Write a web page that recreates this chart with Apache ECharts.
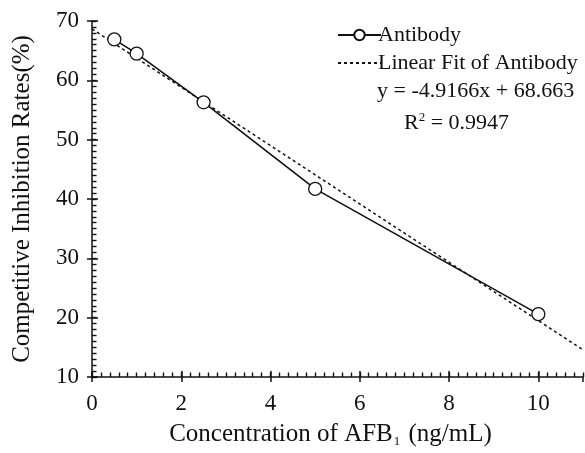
<!DOCTYPE html>
<html>
<head>
<meta charset="utf-8">
<script src="https://cdn.jsdelivr.net/npm/echarts@6/dist/echarts.min.js"></script>
<style>
  html, body { margin: 0; padding: 0; background: #fff; }
  #chart { width: 585px; height: 453px; }
</style>
</head>
<body>
<div id="chart"></div>
<script>
// concentration of AFB1 (ng/mL) and inhibition rates (%)
var concentration = [0.5, 1, 2.5, 5, 10];
var inhibition = [66.9, 64.5, 56.3, 41.7, 20.6];
// linear fit y = -4.9166x + 68.663, read at the axis ends
var fitX = [0, 11];
var fitY = [68.66, 14.58];
var xTicks = [0, 2, 4, 6, 8, 10];
var yTicks = [10, 20, 30, 40, 50, 60, 70];

var serif = '"Liberation Serif", "Times New Roman", serif';
var ink = '#111';

var chart = echarts.init(document.getElementById('chart'));

var baseX = { type: 'value', min: 0, max: 11, interval: 2 };
var baseY = { type: 'value', min: 10, max: 70, interval: 10 };
var bare = {
  axisLine: { show: false, onZero: false },
  axisLabel: { show: false },
  splitLine: { show: false }
};

chart.setOption({
  animation: false,
  grid: { left: 92, right: 2, top: 21, bottom: 73 },
  legend: {
    orient: 'vertical',
    left: 332,
    top: 19,
    itemWidth: 43,
    itemHeight: 13,
    itemGap: 6,
    textStyle: { fontFamily: serif, fontSize: 22, color: ink, lineHeight: 22, padding: [0, 0, 0, -8] },
    data: [
      { name: 'Antibody' },
      { name: 'Linear Fit of Antibody', itemStyle: { opacity: 0 } }
    ]
  },
  xAxis: [
    Object.assign({}, baseX, {
      name: '{t|Concentration of AFB}{s|1}{t| (ng/mL)}',
      nameLocation: 'middle',
      nameGap: 44,
      nameTextStyle: {
        padding: [0, 14, 0, 0],
        rich: {
          t: { fontFamily: serif, fontSize: 25, color: ink, lineHeight: 27 },
          s: { fontFamily: serif, fontSize: 13, color: ink, verticalAlign: 'bottom', lineHeight: 13, padding: [4, 2, 0, 1] }
        }
      },
      axisLine: { onZero: false, lineStyle: { color: ink, width: 1.5 } },
      axisTick: { inside: true, length: 6, lineStyle: { color: ink, width: 1.5 } },
      axisLabel: {
        showMaxLabel: false,
        margin: 15,
        fontFamily: serif,
        fontSize: 23,
        color: ink,
        formatter: function (v) { return xTicks.indexOf(v) >= 0 ? String(v) : ''; }
      },
      splitLine: { show: false },
      z: 5
    }),
    // outward half of the crossing major ticks
    Object.assign({}, baseX, bare, {
      position: 'bottom',
      axisTick: { show: true, inside: false, length: 5, lineStyle: { color: ink, width: 1.5 } },
      z: 5
    }),
    // minor ticks every 0.2
    Object.assign({}, baseX, bare, {
      position: 'bottom',
      interval: 0.2,
      axisTick: { show: true, inside: true, length: 4.5, lineStyle: { color: ink, width: 1.4 } },
      z: 5
    })
  ],
  yAxis: [
    Object.assign({}, baseY, {
      name: 'Competitive Inhibition Rates(%)',
      nameLocation: 'middle',
      nameGap: 57,
      nameTextStyle: { fontFamily: serif, fontSize: 25, color: ink },
      axisLine: { onZero: false, lineStyle: { color: ink, width: 1.5 } },
      axisTick: { inside: true, length: 6, lineStyle: { color: ink, width: 1.5 } },
      axisLabel: {
        margin: 13,
        fontFamily: serif,
        fontSize: 23,
        color: ink,
        formatter: function (v) { return yTicks.indexOf(v) >= 0 ? String(v) : ''; }
      },
      splitLine: { show: false },
      z: 5
    }),
    // outward half of the crossing major ticks
    Object.assign({}, baseY, bare, {
      position: 'left',
      axisTick: { show: true, inside: false, length: 5, lineStyle: { color: ink, width: 1.5 } },
      z: 5
    }),
    // minor ticks every 1
    Object.assign({}, baseY, bare, {
      position: 'left',
      interval: 1,
      axisTick: { show: true, inside: true, length: 4.5, lineStyle: { color: ink, width: 1.4 } },
      z: 5
    })
  ],
  graphic: [
    {
      type: 'text',
      left: 377,
      top: 80,
      style: { text: 'y = -4.9166x + 68.663', font: '22px ' + serif, fill: ink }
    },
    {
      type: 'text',
      left: 404,
      top: 111,
      style: {
        text: '{t|R}{p|2}{t| = 0.9947}',
        rich: {
          t: { fontFamily: serif, fontSize: 22, fill: ink, lineHeight: 24 },
          p: { fontFamily: serif, fontSize: 13, fill: ink, verticalAlign: 'top', lineHeight: 13 }
        }
      }
    }
  ],
  series: [
    {
      name: 'Linear Fit of Antibody',
      type: 'line',
      data: fitX.map(function (x, i) { return [x, fitY[i]]; }),
      symbol: 'none',
      lineStyle: { color: ink, width: 1.5, type: [3, 3] },
      itemStyle: { color: ink },
      z: 2
    },
    {
      name: 'Antibody',
      type: 'line',
      data: concentration.map(function (x, i) { return [x, inhibition[i]]; }),
      symbol: 'circle',
      symbolSize: 13,
      lineStyle: { color: ink, width: 1.6 },
      itemStyle: { color: '#fff', borderColor: ink, borderWidth: 1.3 },
      z: 3
    }
  ]
});
</script>
</body>
</html>
